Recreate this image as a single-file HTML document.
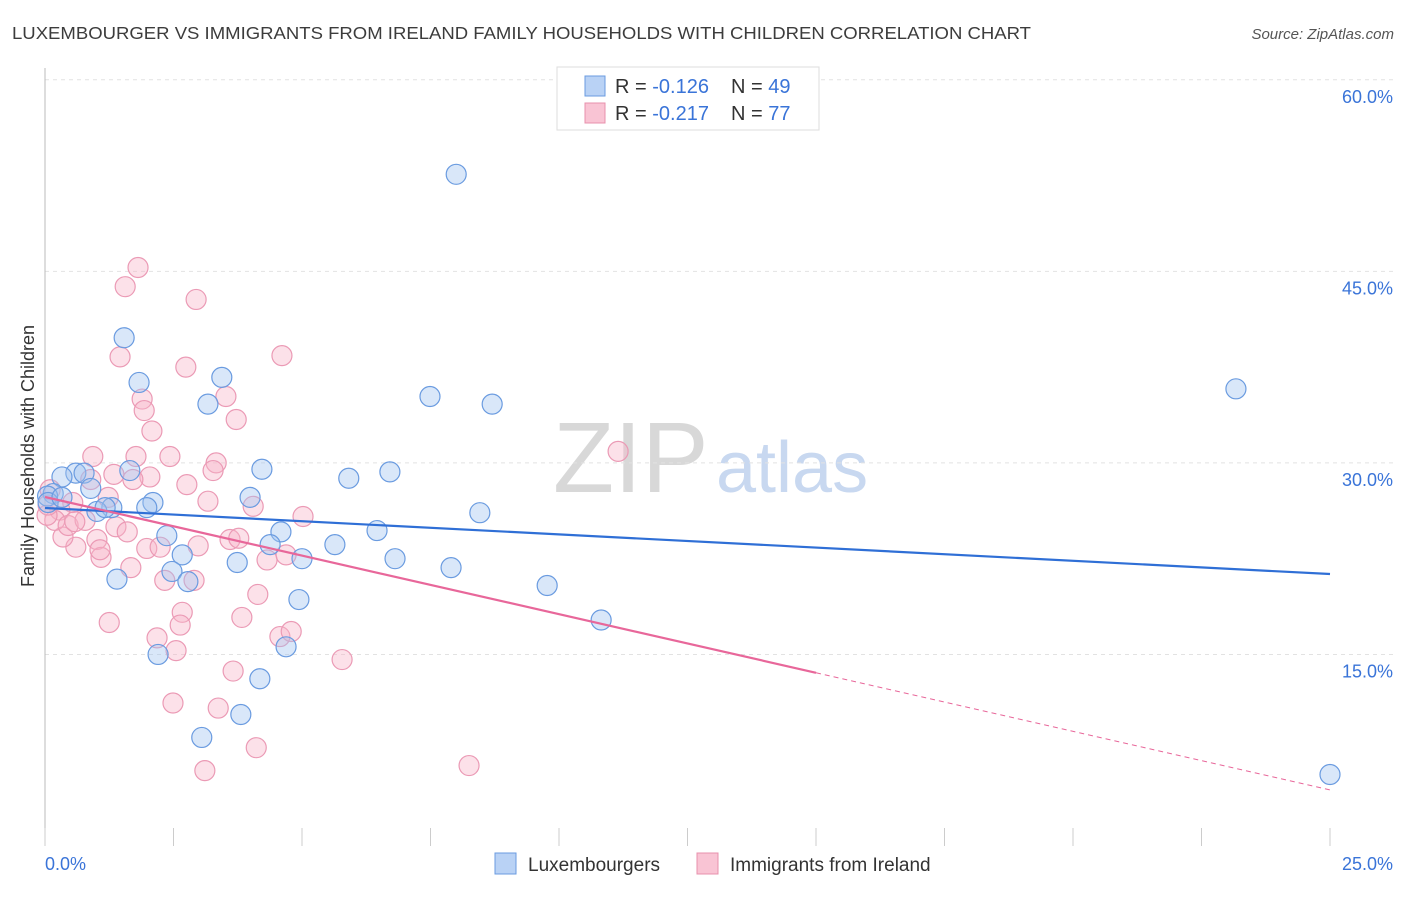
<!DOCTYPE html>
<html><head><meta charset="utf-8"><style>
body{margin:0;background:#fff;font-family:"Liberation Sans",sans-serif}
svg text{font-family:"Liberation Sans",sans-serif}
</style></head><body>
<svg id="chart" width="1406" height="892">
<text x="12" y="39" font-size="17.5" fill="#3c3c3c" textLength="1019" lengthAdjust="spacingAndGlyphs">LUXEMBOURGER VS IMMIGRANTS FROM IRELAND FAMILY HOUSEHOLDS WITH CHILDREN CORRELATION CHART</text>
<text x="1394" y="39" font-size="15" fill="#555" font-style="italic" text-anchor="end">Source: ZipAtlas.com</text>
<g>
<text x="553" y="492" font-size="100" fill="#d8d8d8" font-family="Liberation Serif,serif">ZIP</text>
<text x="716" y="492" font-size="72" fill="#c8d8f0">atlas</text>
</g>
<g id="grid"></g><g id="axes"></g><g id="marks"></g><g id="lines"></g>
<text transform="translate(34,456) rotate(-90)" font-size="18" fill="#333" text-anchor="middle">Family Households with Children</text>
<g>
<rect x="557" y="67" width="262" height="63" fill="#fff" stroke="#ddd"/>
<rect x="585" y="76" width="20" height="20" fill="#b9d2f5" stroke="#6a9be0"/>
<text x="615" y="93" font-size="20" fill="#333">R = <tspan fill="#3a74d8">-0.126</tspan></text>
<text x="731" y="93" font-size="20" fill="#333">N = <tspan fill="#3a74d8">49</tspan></text>
<rect x="585" y="103" width="20" height="20" fill="#f9c4d4" stroke="#e890ac"/>
<text x="615" y="120" font-size="20" fill="#333">R = <tspan fill="#3a74d8">-0.217</tspan></text>
<text x="731" y="120" font-size="20" fill="#333">N = <tspan fill="#3a74d8">77</tspan></text>
</g>
<g>
<rect x="495" y="853" width="21" height="21" fill="#b9d2f5" stroke="#6a9be0"/>
<text x="528" y="871" font-size="19" fill="#333">Luxembourgers</text>
<rect x="697" y="853" width="21" height="21" fill="#f9c4d4" stroke="#e890ac"/>
<text x="730" y="871" font-size="19" fill="#333">Immigrants from Ireland</text>
</g>
</svg>
<script>
const blueX=[8.00,1.54,1.83,3.44,3.17,7.49,8.70,23.17,4.22,6.71,5.91,0.60,0.76,0.33,1.65,0.89,0.16,0.05,2.10,3.99,1.98,1.30,1.01,0.06,8.46,6.46,2.37,4.59,4.38,5.64,2.67,3.74,5.00,6.81,7.90,1.40,2.47,2.78,9.77,4.94,10.82,4.69,2.20,4.18,3.81,3.05,25.0,0.33,1.17];
const blueY=[52.6,39.8,36.3,36.7,34.6,35.2,34.6,35.8,29.5,29.3,28.8,29.2,29.2,28.9,29.4,28.0,27.6,27.4,26.9,27.3,26.5,26.5,26.2,26.9,26.1,24.7,24.3,24.6,23.6,23.6,22.8,22.2,22.5,22.5,21.8,20.9,21.5,20.7,20.4,19.3,17.7,15.6,15.0,13.1,10.3,8.5,5.6,27.3,26.5];
const pinkX=[1.81,1.56,2.94,1.46,4.61,2.74,1.89,1.93,3.52,3.72,2.08,0.93,1.77,2.43,3.33,3.27,1.34,2.04,1.71,2.76,0.89,1.23,3.17,4.05,5.02,0.54,0.29,1.38,1.60,0.60,0.35,1.01,1.98,2.24,2.98,3.60,3.77,4.32,4.69,1.67,1.09,1.07,2.33,2.90,4.14,2.67,2.63,3.83,1.25,2.18,2.55,4.57,4.79,5.78,3.66,2.49,3.37,4.11,3.11,8.25,11.15,0.10,0.19,0.45,0.78,0.04,0.58,0.06];
const pinkY=[45.3,43.8,42.8,38.3,38.4,37.5,35.0,34.1,35.2,33.4,32.5,30.5,30.5,30.5,30.0,29.4,29.1,28.9,28.7,28.3,28.7,27.3,27.0,26.6,25.8,26.9,26.3,25.0,24.6,23.4,24.2,24.0,23.3,23.4,23.5,24.0,24.1,22.4,22.8,21.8,22.6,23.2,20.8,20.8,19.7,18.3,17.3,17.9,17.5,16.3,15.3,16.4,16.8,14.6,13.7,11.2,10.8,7.7,5.9,6.3,30.9,27.9,25.5,25.1,25.5,25.9,25.4,26.7];
const yTicks=[15,30,45,60];
const yTickLabels=["15.0%","30.0%","45.0%","60.0%"];
const xTickLabels=["0.0%","25.0%"];
const blueTrend=[26.47,21.3];
const pinkTrend=[27.33,4.39];
const pinkSolidEnd=15;
const NS="http://www.w3.org/2000/svg";
const sx=v=>45+v*51.4, sy=v=>846-v*12.77;
function mk(p,t,a){const e=document.createElementNS(NS,t);for(const k in a)e.setAttribute(k,a[k]);p.appendChild(e);return e;}
const grid=document.getElementById('grid'),axes=document.getElementById('axes'),marks=document.getElementById('marks'),lines=document.getElementById('lines');
yTicks.forEach((t,i)=>{
 const l=mk(grid,'line',{x1:45,x2:1393,y1:sy(t),y2:sy(t),stroke:'#e2e2e2','stroke-dasharray':'4,4'});
 
 
 const tx=mk(axes,'text',{x:1393,y:sy(t)+23,'font-size':18,fill:'#3a74d8','text-anchor':'end'});
 tx.textContent=yTickLabels[i];
 
 
});
const ya=mk(axes,'line',{x1:45,x2:45,y1:68,y2:846,stroke:'#bbb'});


for(let i=0;i<=10;i++){
 const t=mk(axes,'line',{x1:sx(i*2.5),x2:sx(i*2.5),y1:828,y2:846,stroke:'#ccc'});
 
 
}
const xl0=mk(axes,'text',{x:45,y:870,'font-size':18,fill:'#3a74d8'});xl0.textContent=xTickLabels[0];


const xl1=mk(axes,'text',{x:1393,y:870,'font-size':18,fill:'#3a74d8','text-anchor':'end'});xl1.textContent=xTickLabels[1];


pinkX.forEach((x,i)=>{
 const c=mk(marks,'circle',{cx:sx(x),cy:sy(pinkY[i]),r:10,fill:'rgba(248,180,200,0.4)',stroke:'#eb9ab5','stroke-width':1.2});
 
 
});
blueX.forEach((x,i)=>{
 const c=mk(marks,'circle',{cx:sx(x),cy:sy(blueY[i]),r:10,fill:'rgba(160,196,240,0.4)',stroke:'#6a9be0','stroke-width':1.2});
 
 
});
const bl=mk(lines,'line',{x1:sx(0),y1:sy(blueTrend[0]),x2:sx(25),y2:sy(blueTrend[1]),stroke:'#2f6fd6','stroke-width':2.2});


const pAt=x=>pinkTrend[0]+(pinkTrend[1]-pinkTrend[0])*x/25;
const pl=mk(lines,'line',{x1:sx(0),y1:sy(pAt(0)),x2:sx(pinkSolidEnd),y2:sy(pAt(pinkSolidEnd)),stroke:'#e8679a','stroke-width':2.2});


const pd=mk(lines,'line',{x1:sx(pinkSolidEnd),y1:sy(pAt(pinkSolidEnd)),x2:sx(25),y2:sy(pAt(25)),stroke:'#e8679a','stroke-width':1,'stroke-dasharray':'5,4'});


</script>
</body></html>
